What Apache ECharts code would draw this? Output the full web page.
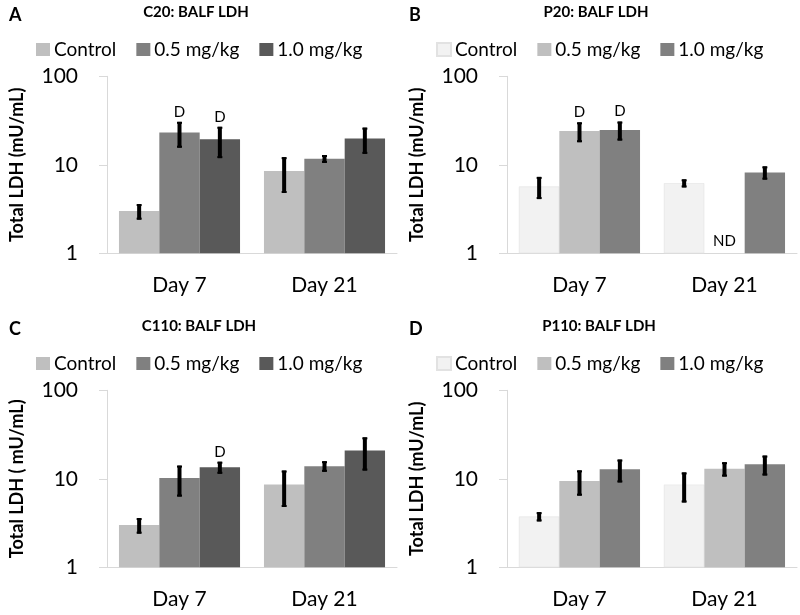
<!DOCTYPE html>
<html>
<head>
<meta charset="utf-8">
<script src="https://cdn.jsdelivr.net/npm/echarts@6/dist/echarts.min.js"></script>
<style>
html,body{margin:0;padding:0;background:#fff;width:800px;height:615px;overflow:hidden;}
.p{position:absolute;width:400px;height:310px;}
</style>
</head>
<body>
<div id="pA" class="p" style="left:0;top:0"></div>
<div id="pB" class="p" style="left:400px;top:0"></div>
<div id="pC" class="p" style="left:0;top:314px;height:301px"></div>
<div id="pD" class="p" style="left:400px;top:314px;height:301px"></div>
<script>
// ---- shared ----
const categories = ['Day 7', 'Day 21'];
const seriesNames = ['Control', '0.5 mg/kg', '1.0 mg/kg'];
const yTicks = [1, 10, 100];

// ---- Panel A: C20 ----
const aControl = [3.0, 8.5];
const aLow = [23.1, 11.7];
const aHigh = [19.4, 19.8];
const aControlErr = [0.6, 3.7];
const aLowErr = [7.5, 1.2];
const aHighErr = [7.5, 6.5];
const aNotes = [['', ''], ['D', ''], ['D', '']];

// ---- Panel B: P20 ----
const bControl = [5.7, 6.2];
const bLow = [24.1, null];
const bHigh = [24.8, 8.2];
const bControlErr = [1.6, 0.65];
const bLowErr = [6.1, null];
const bHighErr = [6.0, 1.4];
const bNotes = [['', ''], ['D', 'ND'], ['D', '']];

// ---- Panel C: C110 ----
const cControl = [3.0, 8.6];
const cLow = [10.2, 13.9];
const cHigh = [13.5, 20.9];
const cControlErr = [0.6, 3.8];
const cLowErr = [3.9, 1.9];
const cHighErr = [2.1, 8.5];
const cNotes = [['', ''], ['', ''], ['D', '']];

// ---- Panel D: P110 ----
const dControl = [3.75, 8.6];
const dLow = [9.45, 13.0];
const dHigh = [12.8, 14.6];
const dControlErr = [0.45, 3.2];
const dLowErr = [3.0, 2.4];
const dHighErr = [3.7, 3.7];
const dNotes = [['', ''], ['', ''], ['', '']];

const darkColors = ['#bfbfbf', '#808080', '#595959'];
const lightColors = ['#f2f2f2', '#bfbfbf', '#808080'];

const FONT = 'Lato, "Open Sans", sans-serif';
const CAT_GAP = 0.165;

function buildPanel(el, letter, title, yName, means, errs, notes, colors, titleX) {
  const chart = echarts.init(document.getElementById(el), null, {renderer: 'canvas'});
  const series = [];
  means.forEach((vals, s) => {
    const isLight = colors[s] === '#f2f2f2';
    series.push({
      name: seriesNames[s],
      type: 'bar',
      data: vals.map(v => v == null ? '-' : v),
      barGap: '0%',
      barCategoryGap: (CAT_GAP * 100) + '%',
      itemStyle: {color: colors[s], borderColor: isLight ? '#e2e2e2' : colors[s], borderWidth: isLight ? 0.6 : 0},
      silent: true,
      animation: false
    });
  });
  const errData = [];
  means.forEach((vals, s) => {
    vals.forEach((v, c) => {
      errData.push([c, v == null ? 1 : v, s]);
    });
  });
  series.push({
    type: 'custom',
    animation: false,
    silent: true,
    z: 10,
    data: errData,
    encode: {x: 0, y: 1},
    renderItem: function (params, api) {
      const c = api.value(0);
      const s = api.value(2);
      const note = notes[s][c];
      const mean = means[s][c];
      const err = errs[s][c];
      const x0 = api.coord([0, 1])[0];
      const x1 = api.coord([1, 1])[0];
      const band = x1 - x0;
      const barW = band * (1 - CAT_GAP) / 3;
      const cx = api.coord([c, 1])[0] + (s - 1) * barW;
      const children = [];
      let topY;
      if (mean != null && err != null) {
        const yHi = api.coord([c, mean + err])[1];
        const yLo = api.coord([c, Math.max(mean - err, 1.0001)])[1];
        children.push({type: 'line', shape: {x1: cx, y1: yHi, x2: cx, y2: yLo}, style: {stroke: '#000', lineWidth: 4}});
        children.push({type: 'line', shape: {x1: cx - 2.5, y1: yHi + 1, x2: cx + 2.5, y2: yHi + 1}, style: {stroke: '#000', lineWidth: 2}});
        children.push({type: 'line', shape: {x1: cx - 2.5, y1: yLo - 1, x2: cx + 2.5, y2: yLo - 1}, style: {stroke: '#000', lineWidth: 2}});
        topY = yHi;
      }
      if (note) {
        let ty;
        if (mean == null) ty = api.coord([c, 1])[1] - 12;
        else ty = topY - 10;
        children.push({type: 'text', x: cx, y: ty, style: {text: note, fill: '#000', font: '15px ' + FONT, align: 'center', verticalAlign: 'middle'}});
      }
      return {type: 'group', children: children};
    }
  });

  chart.setOption({
    animation: false,
    textStyle: {fontFamily: FONT},
    graphic: [
      {type: 'text', x: 9, y: 15.5, style: {text: letter, fill: '#000', font: 'bold 18px ' + FONT, align: 'left', verticalAlign: 'middle'}},
      {type: 'text', x: titleX, y: 12.5, style: {text: title, fill: '#000', font: 'bold 15px ' + FONT, align: 'center', verticalAlign: 'middle'}}
    ],
    legend: {
      left: 36, top: 40, padding: 0,
      itemWidth: 14, itemHeight: 13, itemGap: 20,
      icon: 'rect',
      selectedMode: false,
      textStyle: {fontSize: 19, color: '#000', fontFamily: FONT, padding: [0, 0, 0, -1]},
      data: seriesNames.map((n, i) => ({name: n, itemStyle: {color: colors[i]}}))
    },
    grid: {left: 95, width: 302, top: 76.3, height: 177},
    xAxis: {
      type: 'category',
      data: categories,
      axisLine: {lineStyle: {color: '#d9d9d9', width: 1}},
      axisTick: {show: false},
      axisLabel: {fontSize: 21, color: '#000', margin: 21, fontFamily: FONT}
    },
    yAxis: {
      type: 'log',
      logBase: 10,
      min: yTicks[0],
      max: yTicks[yTicks.length - 1],
      name: yName,
      nameLocation: 'middle',
      nameGap: 81,
      nameTextStyle: {fontSize: 18, fontWeight: 'bold', color: '#000', fontFamily: FONT},
      axisLine: {show: true, lineStyle: {color: '#d9d9d9'}},
      axisTick: {show: true, length: 8, inside: false, lineStyle: {color: '#d9d9d9'}},
      splitLine: {show: false},
      minorTick: {show: false},
      axisLabel: {fontSize: 21, color: '#000', margin: 29, fontFamily: FONT}
    },
    series: series
  });
}

buildPanel('pA', 'A', 'C20: BALF LDH', 'Total LDH (mU/mL)',
  [aControl, aLow, aHigh], [aControlErr, aLowErr, aHighErr], aNotes, darkColors, 196);
buildPanel('pB', 'B', 'P20: BALF LDH', 'Total LDH (mU/mL)',
  [bControl, bLow, bHigh], [bControlErr, bLowErr, bHighErr], bNotes, lightColors, 196);
buildPanel('pC', 'C', 'C110: BALF LDH', 'Total LDH ( mU/mL)',
  [cControl, cLow, cHigh], [cControlErr, cLowErr, cHighErr], cNotes, darkColors, 199);
buildPanel('pD', 'D', 'P110: BALF LDH', 'Total LDH (mU/mL)',
  [dControl, dLow, dHigh], [dControlErr, dLowErr, dHighErr], dNotes, lightColors, 199);
</script>
</body>
</html>
